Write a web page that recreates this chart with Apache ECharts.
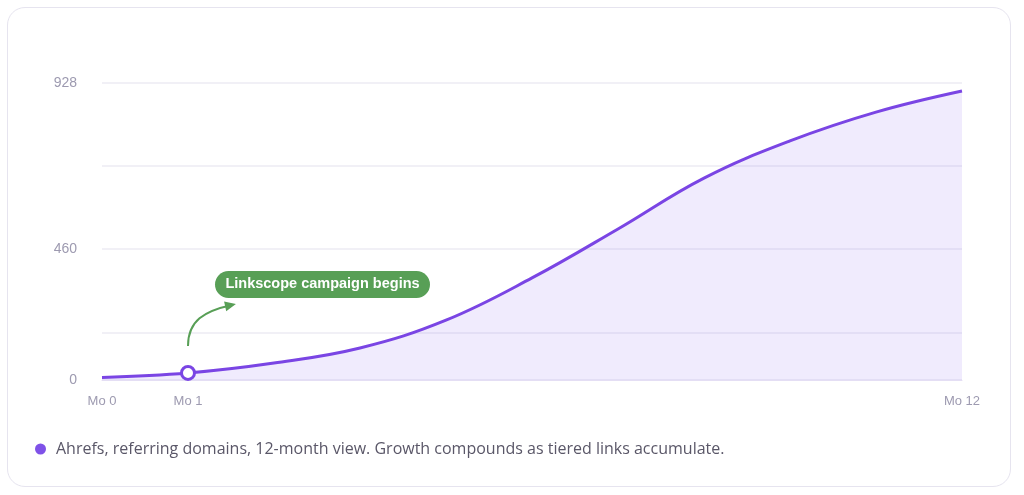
<!DOCTYPE html>
<html>
<head>
<meta charset="utf-8">
<script src="https://cdn.jsdelivr.net/npm/echarts@6/dist/echarts.min.js"></script>
<style>
  html, body { margin: 0; padding: 0; background: #fff; }
  #card {
    position: absolute; left: 7px; top: 7px; width: 1004px; height: 480px;
    border: 1px solid #e6e4ef; border-radius: 18px; box-sizing: border-box;
  }
  #chart { position: absolute; left: 0; top: 0; width: 1024px; height: 495px; }
</style>
</head>
<body>
<div id="card"></div>
<div id="chart"></div>
<script>
// x slots (only these labels are printed on the axis)
var xLabels = ['Mo 0', 'Mo 1', '', '', '', '', '', '', '', '', 'Mo 12'];
// referring domains
var refDomains = [8, 22, 53, 100, 187, 319, 472, 631, 747, 837, 903];
var yMax = 928;
// labels on the evenly spaced grid lines, top to bottom
var gridLabels = ['928', '', '460', ''];
var campaignIndex = 1;
var campaignText = 'Linkscope campaign begins';
var seriesName = 'Ahrefs, referring domains, 12-month view. Growth compounds as tiered links accumulate.';

var purple = '#7a45e4';
var green = '#589f56';

var chart = echarts.init(document.getElementById('chart'));

var seriesData = refDomains.map(function (v, i) {
    if (i === campaignIndex) {
        return { value: v, symbol: 'circle', symbolSize: 13,
                 itemStyle: { color: '#fff', borderColor: purple, borderWidth: 3 } };
    }
    return { value: v, symbol: 'none' };
});

var option = {
    animation: false,
    grid: { left: 102, right: 62, top: 83, bottom: 115 },
    legend: {
        left: 30, top: 436,
        icon: 'circle', itemWidth: 11, itemHeight: 11,
        textStyle: { fontFamily: 'Open Sans', fontSize: 16, color: '#5a5768', padding: [0, 0, 0, 5] },
        data: [{ name: seriesName, itemStyle: { color: '#7f52e8' } }]
    },
    xAxis: {
        type: 'category',
        boundaryGap: false,
        data: xLabels,
        axisLine: { lineStyle: { color: '#e4def4' } },
        axisTick: { show: false },
        axisLabel: { interval: 0, margin: 15, color: '#9d9ab0', fontSize: 13, fontFamily: 'Liberation Sans' },
        splitLine: { show: false }
    },
    yAxis: [
        {
            type: 'value', min: 0, max: yMax, interval: yMax,
            axisLine: { show: false }, axisTick: { show: false },
            splitLine: { show: false },
            axisLabel: {
                margin: 25, color: '#9d9ab0', fontSize: 14, fontFamily: 'Liberation Sans',
                formatter: function (v) { return v === 0 ? '0' : ''; }
            }
        },
        {
            // grid lines: evenly spaced from the top
            type: 'value', inverse: true, min: 0, max: 3.574, interval: 1,
            position: 'left',
            axisLine: { show: false }, axisTick: { show: false },
            splitLine: { lineStyle: { color: '#ecebf3', width: 1.5 } },
            axisLabel: {
                margin: 25, color: '#9d9ab0', fontSize: 14, fontFamily: 'Liberation Sans',
                formatter: function (v) { return gridLabels[v] || ''; }
            }
        }
    ],
    series: [
        {
            name: seriesName,
            type: 'line',
            yAxisIndex: 0,
            smooth: 0.4,
            data: seriesData,
            lineStyle: { color: purple, width: 3 },
            itemStyle: { color: purple },
            areaStyle: { color: 'rgba(125, 80, 240, 0.16)' },
            z: 3
        }
    ]
};

chart.setOption(option);

// annotation placed relative to the campaign point
var p = chart.convertToPixel({ xAxisIndex: 0, yAxisIndex: 0 }, [campaignIndex, refDomains[campaignIndex]]);
var sx = p[0], sy = p[1] - 27;
var ex = p[0] + 44, ey = p[1] - 68;
var c2x = p[0] + 16, c2y = p[1] - 62;
var dx = ex - c2x, dy = ey - c2y, len = Math.sqrt(dx * dx + dy * dy);
dx /= len; dy /= len;
var tipX = ex + dx * 4, tipY = ey + dy * 4;
var hl = 11, hw = 5;

chart.setOption({
    graphic: [
        {
            type: 'bezierCurve',
            shape: { x1: sx, y1: sy, cpx1: p[0], cpy1: p[1] - 52, cpx2: c2x, cpy2: c2y, x2: ex, y2: ey },
            style: { stroke: green, lineWidth: 2, fill: null },
            z: 10
        },
        {
            type: 'polygon',
            shape: { points: [
                [tipX, tipY],
                [tipX - dx * hl - dy * hw, tipY - dy * hl + dx * hw],
                [tipX - dx * hl + dy * hw, tipY - dy * hl - dx * hw]
            ] },
            style: { fill: green },
            z: 10
        },
        {
            type: 'rect',
            shape: { x: p[0] + 27, y: p[1] - 102, width: 215, height: 27, r: 13.5 },
            style: { fill: green },
            z: 10
        },
        {
            type: 'text',
            x: p[0] + 27 + 107.5, y: p[1] - 102 + 13.5,
            style: {
                text: campaignText, fill: '#fff',
                font: 'bold 14.5px "Liberation Sans"',
                align: 'center', verticalAlign: 'middle'
            },
            z: 11
        }
    ]
});
</script>
</body>
</html>
